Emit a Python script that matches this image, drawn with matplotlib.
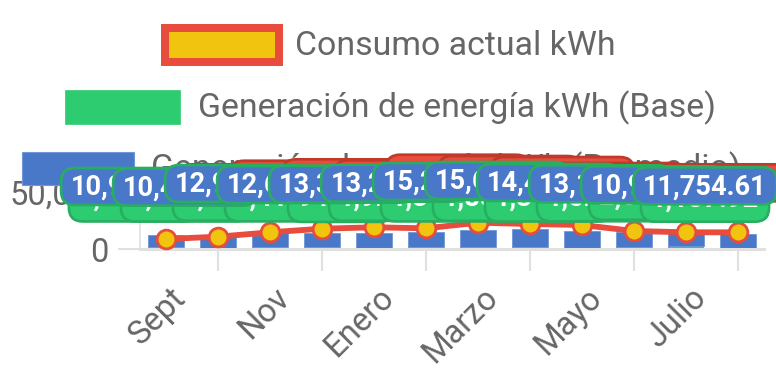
import matplotlib
matplotlib.use('Agg')
import matplotlib.pyplot as plt
from matplotlib.patches import FancyBboxPatch, Rectangle
from matplotlib.transforms import IdentityTransform, ScaledTranslation

plt.rcParams['font.family'] = ['Roboto', 'DejaVu Sans']

# ---------------- data ----------------
months = ['Sept', 'Oct', 'Nov', 'Dic', 'Enero', 'Feb', 'Marzo', 'Abril',
          'Mayo', 'Junio', 'Julio', 'Agosto']
consumo = [8770.40, 10790.15, 14650.80, 17800.35, 19030.60, 18150.25,
           23070.90, 21930.45, 21050.70, 15790.20, 14650.55, 14650.10]
gen_base = [1340.52, 1298.17, 1987.40, 1412.66, 945.83, 1928.71,
            1396.25, 1887.09, 1314.58, 1521.34, 2816.47, 1137.92]
gen_prom = [10938.27, 10412.85, 12906.44, 12617.30, 13358.92, 13241.06,
            15267.53, 15648.19, 14472.80, 13129.65, 10947.38, 11754.61]
y_ticks = [0, 50000]
y_tick_labels = ['0', '50,000']
legend_labels = ['Consumo actual kWh',
                 'Generación de energía kWh (Base)',
                 'Generación de energía kWh (Promedio)']

# ---------------- style ----------------
BLUE = '#4a78c9'
BLUE_EDGE = '#7096da'
GREEN = '#2ecc71'
GREEN_DARK = '#27ae60'
RED = '#e74c3c'
RED_DARK = '#c0392b'
YELLOW = '#f1c40f'
TXT = '#666666'
GRID = '#e0e0e0'

W, H = 776, 388
fig = plt.figure(figsize=(W / 100, H / 100), dpi=100)
ax = fig.add_axes([140 / W, 1 - 249 / H, 624 / W, 57 / H])
x = list(range(len(months)))

ax.bar(x, gen_base, width=0.71, color=GREEN, zorder=2)
ax.bar(x, gen_prom, bottom=gen_base, width=0.71, color=BLUE,
       edgecolor=BLUE_EDGE, linewidth=0.6, zorder=2)
ax.plot(x, consumo, color=RED, lw=4.2, marker='o', ms=13.5, mfc=YELLOW,
        mec=RED, mew=2.0, zorder=4, clip_on=False)

ax.set_xlim(-0.5, len(months) - 0.5)
ax.set_ylim(y_ticks[0], y_ticks[-1])
ax.set_yticks(y_ticks, y_tick_labels)
ax.set_xticks(x[::2], months[::2])
ax.set_xticks(x[1::2], minor=True)
for s in ['top', 'right']:
    ax.spines[s].set_visible(False)
ax.spines['left'].set_color(GRID)
ax.spines['left'].set_linewidth(1.2)
ax.spines['bottom'].set_color(GRID)
ax.spines['bottom'].set_linewidth(2.2)
ax.tick_params(axis='y', length=15.8, width=1.5, color=GRID, pad=7,
               labelsize=23.5, labelcolor=TXT)
ax.tick_params(axis='x', which='major', length=0, pad=31.5, labelsize=23.5,
               labelcolor=TXT)
ax.tick_params(axis='x', which='minor', length=15.8, width=1.5, color=GRID)
off = ScaledTranslation(15 / 100, 0, fig.dpi_scale_trans)
for lab in ax.get_xticklabels():
    lab.set_rotation(45)
    lab.set_ha('right')
    lab.set_va('center')
    lab.set_rotation_mode('anchor')
    lab.set_transform(lab.get_transform() + off)

r = fig.canvas.get_renderer()
ID = IdentityTransform()

# ---------------- legend (manual, Chart.js style) ----------------
leg_boxes = [((165, 28, 279, 62), YELLOW, RED, 5.76),
             ((65, 90, 180, 124), GREEN, GREEN, 0.5),
             ((22, 152, 134, 185), BLUE, BLUE_EDGE, 0.8)]
leg_text_pos = [(295, 55), (198, 117), (151, 178)]
fit_t = fig.text(0, 0, legend_labels[1], fontsize=23)
leg_fs = 23 * 520 / fit_t.get_window_extent(r).width
fit_t.remove()
for (bx, fc, ec, lw), (tx, ty), lbl in zip(leg_boxes, leg_text_pos, legend_labels):
    x0, y0, x1, y1 = bx
    fig.add_artist(Rectangle((x0, H - y1), x1 - x0, y1 - y0, fc=fc, ec=ec,
                             lw=lw, transform=ID, zorder=1))
    fig.text(tx, H - ty, lbl, transform=ID, ha='left', va='baseline',
             fontsize=leg_fs, color=TXT, zorder=1)

# ---------------- data labels ----------------
probe = fig.text(0, 0, f'{gen_prom[-1]:,.2f}', fontsize=20, weight='bold')
lab_fs = 20 * 124 / probe.get_window_extent(r).width
probe.remove()

z = [5.0]


def add_label(xd, yd, value, fc, ec, dx, lift, base_off):
    px, py = ax.transData.transform((xd, yd))
    cx, cy = px + dx, py + lift
    t = fig.text(cx, cy - base_off, f'{value:,.2f}', transform=ID, ha='center',
                 va='baseline', fontsize=lab_fs, weight='bold', color='white',
                 zorder=z[0] + 0.5)
    w = t.get_window_extent(r).width
    fig.add_artist(FancyBboxPatch((cx - w / 2 - 10, cy - 18.5), w + 20, 37,
                                  boxstyle='round,pad=0,rounding_size=14',
                                  fc=fc, ec=ec, lw=1.9, transform=ID,
                                  zorder=z[0]))
    z[0] += 1


for i, v in enumerate(consumo):
    add_label(i, v, v, RED, RED_DARK, -20, 49.5, 15)
for i, v in enumerate(gen_base):
    add_label(i, v, v, GREEN, GREEN_DARK, -33, 44.5, 3.0)
for i, (b, v) in enumerate(zip(gen_base, gen_prom)):
    add_label(i, b + v, v, BLUE, GREEN_DARK, -33, 48.5, 8.5)

fig.savefig('out.png', dpi=100)
